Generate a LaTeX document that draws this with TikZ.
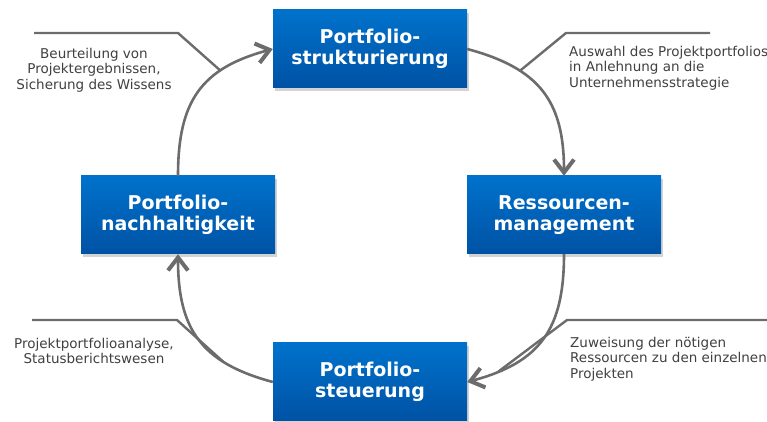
\documentclass[tikz,border=0pt]{standalone}
\usepackage{fontspec}
\setmainfont{DejaVu Sans}
\usetikzlibrary{arrows.meta,shadows}
\definecolor{boxtop}{RGB}{0,114,204}
\definecolor{boxbot}{RGB}{0,82,164}
\definecolor{linegray}{RGB}{108,108,108}
\definecolor{textgray}{RGB}{64,64,64}

\begin{document}
\begin{tikzpicture}[x=1pt,y=1pt,
  phase/.style={rectangle,minimum width=194pt,minimum height=78pt,inner sep=0pt,
    top color=boxtop,bottom color=boxbot,
    drop shadow={shadow xshift=2pt,shadow yshift=-3pt,opacity=0.35},
    text=white,align=center,font=\bfseries\fontsize{19}{21}\selectfont},
  note/.style={text=textgray,inner sep=0pt,font=\fontsize{13.5}{15.5}\selectfont},
  cycle/.style={draw=linegray,line width=2.6pt,looseness=1.2,
    -{Straight Barb[length=13pt,width=20pt,line width=4pt]}},
  callout/.style={draw=linegray,line width=2.4pt}]
  \useasboundingbox (0,0) rectangle (767,422);

  % the four phases
  \node[phase] (struk) at (370,373) {Portfolio-\\strukturierung};
  \node[phase] (ress) at (564,207) {Ressourcen-\\management};
  \node[phase] (steu) at (370,40) {Portfolio-\\steuerung};
  \node[phase] (nach) at (178,207) {Portfolio-\\nachhaltigkeit};

  % cycle arcs
  \draw[cycle] (nach.north) to[out=90,in=195] coordinate[pos=0.7] (tl) (struk.west);
  \draw[cycle] (struk.east) to[out=-15,in=90] coordinate[pos=0.3] (tr) (ress.north);
  \draw[cycle] (ress.south) to[out=-90,in=15] coordinate[pos=0.84] (br) (steu.east);
  \draw[cycle] (steu.west) to[out=165,in=-90] coordinate[pos=0.28] (bl) (nach.south);

  % callouts
  \coordinate (tla) at (34,389); \coordinate (tlk) at (178,389);
  \coordinate (tra) at (710,389); \coordinate (trk) at (566,389);
  \coordinate (bla) at (32,102); \coordinate (blk) at (177,102);
  \coordinate (bra) at (767,102); \coordinate (brk) at (567,102);
  \draw[callout] (tla) -- (tlk) -- (tl);
  \draw[callout] (tra) -- (trk) -- (tr);
  \draw[callout] (bla) -- (blk) -- (bl);
  \draw[callout] (bra) -- (brk) -- (br);

  \node[note,align=center] (tltext) at (94,352)
    {Beurteilung von\\Projektergebnissen,\\Sicherung des Wissens};
  \node[note,align=left,anchor=west] (trtext) at (569,354)
    {Auswahl des Projektportfolios\\in Anlehnung an die\\Unternehmensstrategie};
  \node[note,align=center] (bltext) at (94,71)
    {Projektportfolioanalyse,\\Statusberichtswesen};
  \node[note,align=left,anchor=west] (brtext) at (570,63)
    {Zuweisung der nötigen\\Ressourcen zu den einzelnen\\Projekten};
\end{tikzpicture}
\end{document}
